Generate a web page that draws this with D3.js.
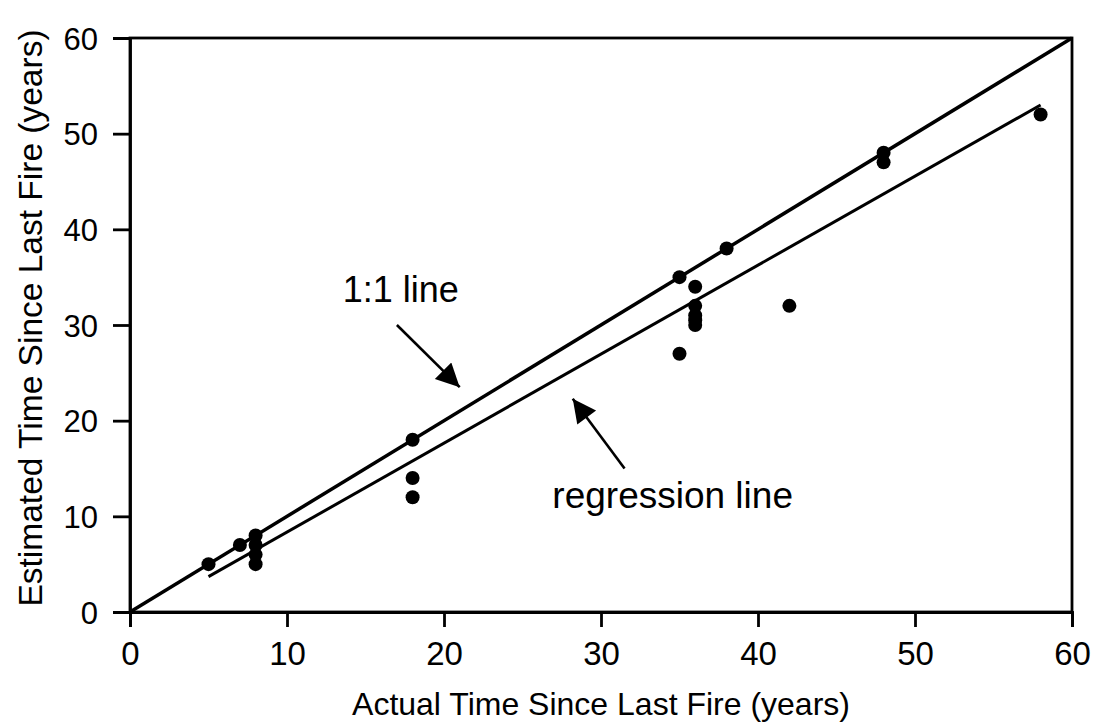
<!doctype html>
<head>
  <meta charset="utf-8">
  <script src="https://cdnjs.cloudflare.com/ajax/libs/d3/7.8.2/d3.min.js"></script>
</head>
<style>
  body { margin: 0; background: #fff; }
  text { font-family: "Liberation Sans", Arial, sans-serif; fill: #000; }
</style>
<body>
<div id="chart"></div>
<script>
  // observed sites: actual vs estimated years since last fire
  const actual    = [5, 7, 8, 8, 8, 8, 18, 18, 18, 35, 35, 36, 36, 36, 36, 36, 38, 42, 48, 48, 58];
  const estimated = [5, 7, 8, 7, 6, 5, 18, 14, 12, 35, 27, 34, 32, 31, 30.5, 30, 38, 32, 48, 47, 52];
  const xTicks = [0, 10, 20, 30, 40, 50, 60];
  const yTicks = [0, 10, 20, 30, 40, 50, 60];
  // fitted regression line, drawn over the range of the data
  const regression = [{x: 5, y: 3.7}, {x: 58, y: 53}];
  const oneToOne = [{x: 0, y: 0}, {x: 60, y: 60}];

  const width = 1100, height = 726;
  const margin = {top: 38, right: 28, bottom: 114, left: 130};

  const svg = d3.select('#chart').append('svg')
    .attr('width', width).attr('height', height);

  const x = d3.scaleLinear().domain([0, 60]).range([margin.left, width - margin.right]);
  const y = d3.scaleLinear().domain([0, 60]).range([height - margin.bottom, margin.top]);

  // frame
  svg.append('rect')
    .attr('x', x(0)).attr('y', y(60))
    .attr('width', x(60) - x(0)).attr('height', y(0) - y(60))
    .attr('fill', 'none').attr('stroke', '#000').attr('stroke-width', 2.8);

  const xAxis = svg.append('g')
    .attr('transform', `translate(0,${y(0)})`)
    .call(d3.axisBottom(x).tickValues(xTicks).tickSize(15).tickPadding(15));
  const yAxis = svg.append('g')
    .attr('transform', `translate(${x(0)},0)`)
    .call(d3.axisLeft(y).tickValues(yTicks).tickSize(17).tickPadding(15));

  [xAxis, yAxis].forEach(a => {
    a.select('.domain').attr('stroke-width', 2.8);
    a.selectAll('.tick line').attr('stroke-width', 2.8);
    a.selectAll('.tick text').attr('fill', '#000')
      .style('font-family', '"Liberation Sans", Arial, sans-serif');
  });
  xAxis.selectAll('.tick text').attr('font-size', 33);
  yAxis.selectAll('.tick text').attr('font-size', 31).attr('dy', '0.36em');

  svg.append('text')
    .attr('x', (x(0) + x(60)) / 2).attr('y', 715)
    .attr('text-anchor', 'middle').attr('font-size', 32)
    .text('Actual Time Since Last Fire (years)');

  svg.append('text')
    .attr('transform', `translate(42,318) rotate(-90)`)
    .attr('text-anchor', 'middle').attr('font-size', 33.5)
    .text('Estimated Time Since Last Fire (years)');

  const line = d3.line().x(d => x(d.x)).y(d => y(d.y));

  svg.append('path').datum(oneToOne)
    .attr('d', line).attr('fill', 'none')
    .attr('stroke', '#000').attr('stroke-width', 3.5);
  svg.append('path').datum(regression)
    .attr('d', line).attr('fill', 'none')
    .attr('stroke', '#000').attr('stroke-width', 3);

  svg.selectAll('.pt')
    .data(actual.map((a, i) => ({x: a, y: estimated[i]})))
    .enter().append('circle')
    .attr('cx', d => x(d.x)).attr('cy', d => y(d.y))
    .attr('r', 7).attr('fill', '#000');

  // annotations
  svg.append('defs').append('marker')
    .attr('id', 'head').attr('viewBox', '0 0 10 10')
    .attr('refX', 10).attr('refY', 5)
    .attr('markerWidth', 12).attr('markerHeight', 9)
    .attr('markerUnits', 'strokeWidth')
    .attr('orient', 'auto')
    .append('path').attr('d', 'M0,0 L10,5 L0,10 z').attr('fill', '#000');

  const arrows = [
    {x1: 17.0, y1: 30.0, x2: 21.0, y2: 23.5},
    {x1: 31.5, y1: 15.0, x2: 28.2, y2: 22.3}
  ];
  svg.selectAll('.arrow').data(arrows).enter().append('line')
    .attr('x1', d => x(d.x1)).attr('y1', d => y(d.y1))
    .attr('x2', d => x(d.x2)).attr('y2', d => y(d.y2))
    .attr('stroke', '#000').attr('stroke-width', 2.6)
    .attr('marker-end', 'url(#head)');

  svg.append('text').attr('x', x(13.55)).attr('y', y(32.4))
    .attr('font-size', 36).text('1:1 line');
  svg.append('text').attr('x', x(26.9)).attr('y', y(10.9))
    .attr('font-size', 37).text('regression line');
</script>
</body>
